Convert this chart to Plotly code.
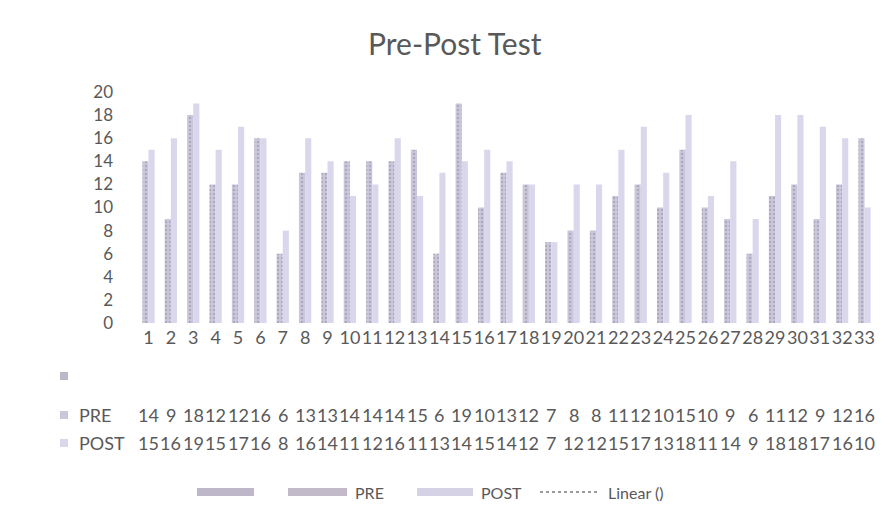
import plotly.graph_objects as go

# Test scores per student (1..33)
students = [str(i) for i in range(1, 34)]
pre_scores = [14, 9, 18, 12, 12, 16, 6, 13, 13, 14, 14, 14, 15, 6, 19, 10, 13,
              12, 7, 8, 8, 11, 12, 10, 15, 10, 9, 6, 11, 12, 9, 12, 16]
post_scores = [15, 16, 19, 15, 17, 16, 8, 16, 14, 11, 12, 16, 11, 13, 14, 15, 14,
               12, 7, 12, 12, 15, 17, 13, 18, 11, 14, 9, 18, 18, 17, 16, 10]
y_ticks = list(range(0, 21, 2))

FONT = "Lato"
TEXT = "#595959"
PRE_COLOR = "#cbc6dc"
POST_COLOR = "#d9d7ec"
BLANK_COLOR = "#bdb7c9"

W, H = 895, 528
ML, MR, MT, MB = 136, 18, 92, 205
PW, PH = W - ML - MR, H - MT - MB


def px(x):
    return (x - ML) / PW


def py(y):
    return (H - MB - y) / PH


fig = go.Figure()
fig.add_trace(go.Bar(
    x=students, y=pre_scores, name="PRE",
    marker=dict(color=PRE_COLOR, line=dict(width=0),
                pattern=dict(shape=".", fgcolor="#8f8b9c", size=4, solidity=0.3)),
))
fig.add_trace(go.Bar(
    x=students, y=post_scores, name="POST",
    marker=dict(color=POST_COLOR, line=dict(width=0)),
))

annotations = [dict(text="Pre-Post Test", x=px(455), xref="paper", y=py(43), yref="paper",
                    showarrow=False, font=dict(family=FONT, size=30, color=TEXT),
                    xanchor="center", yanchor="middle")]
shapes = []

# data table under the axis (category positions are given by index)
rows = [("", None, BLANK_COLOR, 376), ("PRE", pre_scores, PRE_COLOR, 415),
        ("POST", post_scores, POST_COLOR, 443)]
for label, vals, col, ypix in rows:
    shapes.append(dict(type="rect", xref="paper", yref="paper",
                       x0=px(60), x1=px(68), y0=py(ypix - 4), y1=py(ypix + 4),
                       fillcolor=col, line=dict(width=0)))
    if label:
        annotations.append(dict(text=label, x=px(77), xref="paper", y=py(ypix), yref="paper",
                                showarrow=False, xanchor="left", yanchor="middle",
                                font=dict(family=FONT, size=18, color=TEXT)))
    if vals:
        for i, v in enumerate(vals):
            annotations.append(dict(text=str(v), x=i, xref="x", y=py(ypix), yref="paper",
                                    showarrow=False, xanchor="center", yanchor="middle",
                                    font=dict(family=FONT, size=18, color=TEXT)))

# legend row
legend_items = [("", BLANK_COLOR, 197, 254), ("PRE", "#c2b9c9", 288, 347),
                ("POST", "#d4d2e4", 417, 473)]
ly = 492
for label, col, x0, x1 in legend_items:
    shapes.append(dict(type="rect", xref="paper", yref="paper",
                       x0=px(x0), x1=px(x1), y0=py(ly - 4), y1=py(ly + 4),
                       fillcolor=col, line=dict(width=0)))
    if label:
        annotations.append(dict(text=label, x=px(x1 + 6), xref="paper", y=py(ly), yref="paper",
                                showarrow=False, xanchor="left", yanchor="middle",
                                font=dict(family=FONT, size=16, color=TEXT)))
shapes.append(dict(type="line", xref="paper", yref="paper",
                   x0=px(540), x1=px(598), y0=py(ly), y1=py(ly),
                   line=dict(color="#7a7a7a", width=1.5, dash="dot")))
annotations.append(dict(text="Linear ()", x=px(606), xref="paper", y=py(ly), yref="paper",
                        showarrow=False, xanchor="left", yanchor="middle",
                        font=dict(family=FONT, size=16, color=TEXT)))

fig.update_layout(
    width=W, height=H,
    margin=dict(l=ML, r=MR, t=MT, b=MB),
    paper_bgcolor="white", plot_bgcolor="white",
    barmode="group", bargap=0.45, bargroupgap=0,
    showlegend=False,
    font=dict(family=FONT, color=TEXT),
    xaxis=dict(showgrid=False, showline=False, zeroline=False, ticks="",
               tickmode="array", tickvals=students, ticktext=students,
               tickangle=0, ticklabelstandoff=2,
               tickfont=dict(family=FONT, size=18, color=TEXT)),
    yaxis=dict(range=[0, 20], tickvals=y_ticks, showgrid=False, showline=False,
               zeroline=False, ticks="", ticklen=0, ticklabelstandoff=22,
               tickfont=dict(family=FONT, size=17, color=TEXT)),
    annotations=annotations, shapes=shapes,
)

fig.write_html("out.html")
